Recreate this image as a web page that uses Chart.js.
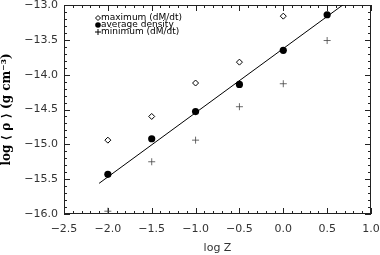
<!DOCTYPE html>
<html lang="en">
<head>
  <meta charset="utf-8">
  <title>log rho vs log Z</title>
  <script src="https://cdn.jsdelivr.net/npm/chart.js@4.4.0/dist/chart.umd.min.js"></script>
  <style>
    html, body { margin: 0; padding: 0; background: #fff; }
    #wrap { width: 380px; height: 255px; }
  </style>
</head>
<body>
  <div id="wrap"><canvas id="myChart"></canvas></div>
  <script>
    // values
    const logZ = [-2.0, -1.5, -1.0, -0.5, 0.0, 0.5];
    const maxRho = [-14.94, -14.60, -14.12, -13.82, -13.16];
    const avgRho = [-15.43, -14.92, -14.53, -14.14, -13.65, -13.14];
    const minRho = [-15.96, -15.25, -14.94, -14.46, -14.13, -13.51];
    const fitX = [-2.10, 0.70];
    const fitY = [-15.56, -12.98];
    const xTicks = [-2.5, -2.0, -1.5, -1.0, -0.5, 0.0, 0.5, 1.0];
    const yTicks = [-16.0, -15.5, -15.0, -14.5, -14.0, -13.5, -13.0];
    const legendLabels = ['maximum (dM/dt)', 'average density', 'minimum (dM/dt)'];

    const pts = (xs, ys) => ys.map((v, i) => ({ x: xs[i], y: v }));
    const fmt = v => (v < 0 ? '\u2212' : '') + Math.abs(v).toFixed(1);

    // box with inward major/minor ticks on all four sides
    const frame = {
      id: 'frame',
      beforeDatasetsDraw(chart) {
        const { ctx, chartArea: a, scales: { x, y } } = chart;
        ctx.save();
        ctx.strokeStyle = '#222';
        ctx.lineWidth = 1;
        ctx.strokeRect(a.left + 0.5, a.top + 0.5, a.right - a.left - 1, a.bottom - a.top - 1);
        ctx.beginPath();
        for (let i = 0; i <= 35; i++) {
          const px = Math.round(x.getPixelForValue(-2.5 + i * 0.1)) + 0.5;
          const len = i % 5 === 0 ? 6 : 3;
          ctx.moveTo(px, a.bottom); ctx.lineTo(px, a.bottom - len);
          ctx.moveTo(px, a.top); ctx.lineTo(px, a.top + len);
        }
        for (let i = 0; i <= 30; i++) {
          const py = Math.round(y.getPixelForValue(-16 + i * 0.1)) + 0.5;
          const len = i % 5 === 0 ? 6 : 3;
          ctx.moveTo(a.left, py); ctx.lineTo(a.left + len, py);
          ctx.moveTo(a.right, py); ctx.lineTo(a.right - len, py);
        }
        ctx.stroke();
        ctx.restore();
      }
    };

    // small legend inside the plot, top left
    const inLegend = {
      id: 'inLegend',
      afterDraw(chart) {
        const { ctx, chartArea: a } = chart;
        ctx.save();
        ctx.font = '9px "DejaVu Sans"';
        ctx.fillStyle = '#000';
        ctx.strokeStyle = '#000';
        ctx.lineWidth = 1;
        ctx.textBaseline = 'middle';
        const sx = a.left + 34, tx = a.left + 37;
        legendLabels.forEach((t, i) => {
          const cy = a.top + 13 + i * 7;
          ctx.beginPath();
          if (i === 0) {
            ctx.moveTo(sx, cy - 2.5); ctx.lineTo(sx + 2.5, cy);
            ctx.lineTo(sx, cy + 2.5); ctx.lineTo(sx - 2.5, cy); ctx.closePath();
            ctx.stroke();
          } else if (i === 1) {
            ctx.arc(sx, cy, 2.8, 0, Math.PI * 2);
            ctx.fill();
          } else {
            ctx.moveTo(sx - 3, cy); ctx.lineTo(sx + 3, cy);
            ctx.moveTo(sx, cy - 3); ctx.lineTo(sx, cy + 3);
            ctx.stroke();
          }
          ctx.fillText(t, tx, cy);
        });
        ctx.restore();
      }
    };

    const ctx = document.getElementById('myChart');
    const myChart = new Chart(ctx, {
      type: 'scatter',
      data: {
        datasets: [{
          label: 'fit',
          type: 'line',
          data: pts(fitX, fitY),
          borderColor: '#000',
          borderWidth: 1,
          pointRadius: 0,
          fill: false
        }, {
          label: legendLabels[0],
          data: pts(logZ, maxRho),
          pointStyle: 'rectRot',
          pointRadius: 3,
          borderColor: '#000',
          borderWidth: 1,
          backgroundColor: '#fff'
        }, {
          label: legendLabels[1],
          data: pts(logZ, avgRho),
          pointStyle: 'circle',
          pointRadius: 3.6,
          borderColor: '#000',
          borderWidth: 0,
          backgroundColor: '#000'
        }, {
          label: legendLabels[2],
          data: pts(logZ, minRho),
          pointStyle: 'cross',
          pointRadius: 3.5,
          borderColor: '#444',
          borderWidth: 0.8
        }]
      },
      options: {
        responsive: true,
        maintainAspectRatio: false,
        animation: false,
        layout: { padding: { left: 0, right: 9, top: 2, bottom: 0 } },
        plugins: { legend: { display: false }, tooltip: { enabled: false } },
        scales: {
          x: {
            type: 'linear',
            min: -2.5, max: 1.0,
            afterBuildTicks: s => { s.ticks = xTicks.map(v => ({ value: v })); },
            grid: { display: false, drawTicks: false },
            border: { display: false },
            ticks: {
              callback: v => fmt(v),
              font: { family: 'DejaVu Sans', size: 11 },
              color: '#333',
              padding: 9,
              maxRotation: 0
            },
            title: {
              display: true,
              text: 'log Z',
              font: { family: 'DejaVu Sans', size: 11 },
              color: '#333',
              padding: { top: 2, bottom: 0 }
            },
            afterFit: s => { s.height = 41; s.paddingLeft = 0; s.paddingRight = 0; }
          },
          y: {
            type: 'linear',
            min: -16, max: -13,
            afterBuildTicks: s => { s.ticks = yTicks.map(v => ({ value: v })); },
            grid: { display: false, drawTicks: false },
            border: { display: false },
            ticks: {
              callback: v => fmt(v),
              font: { family: 'DejaVu Sans', size: 11 },
              color: '#333',
              padding: 6
            },
            title: {
              display: true,
              text: 'log \u27e8 \u03c1 \u27e9 (g cm\u207b\u00b3)',
              font: { family: 'DejaVu Serif', size: 12, weight: 'bold' },
              color: '#000',
              padding: { top: 0, bottom: 1 }
            },
            afterFit: s => { s.width = 64; s.paddingTop = 0; s.paddingBottom = 0; }
          }
        }
      },
      plugins: [frame, inLegend]
    });
  </script>
</body>
</html>
